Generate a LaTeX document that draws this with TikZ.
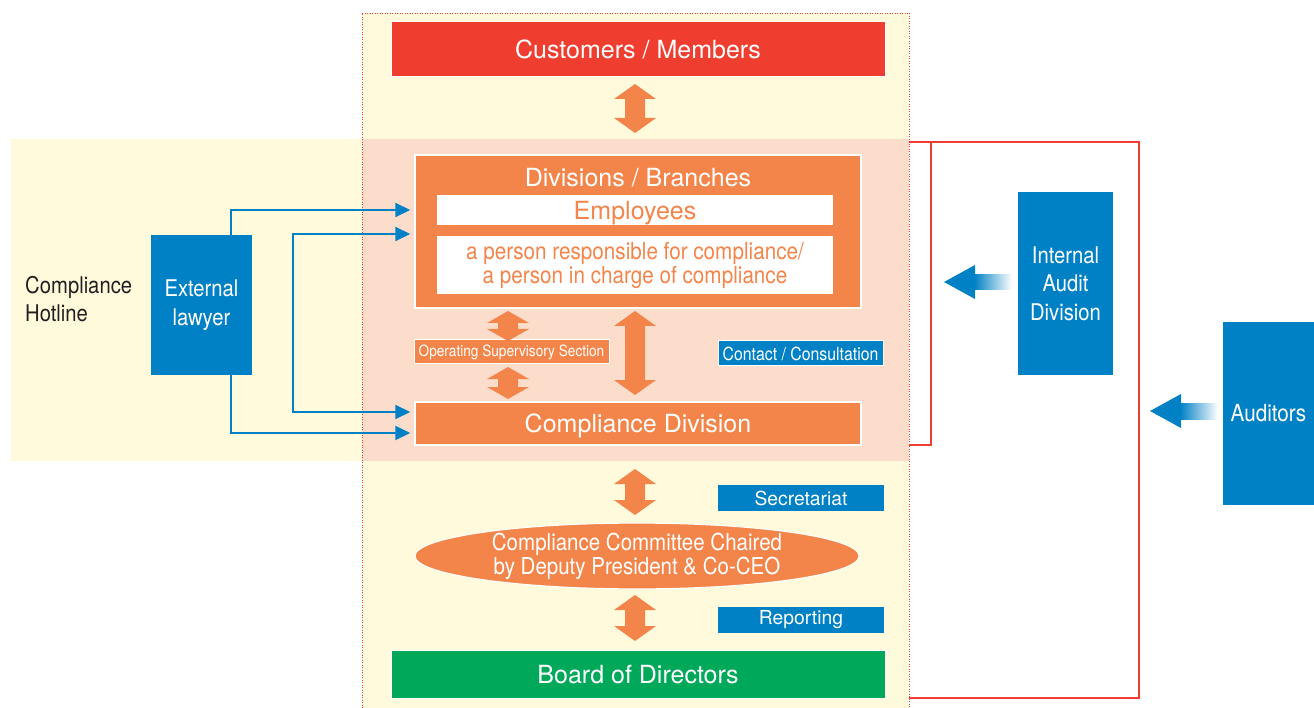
\documentclass[tikz,border=0pt]{standalone}
\usepackage{fontspec}
\setmainfont{TeX Gyre Heros}
\newfontfamily\cond[FakeStretch=0.88]{TeX Gyre Heros}
\usetikzlibrary{arrows.meta,shapes.geometric}
\definecolor{cyel}{HTML}{FFFADC}
\definecolor{cpink}{HTML}{FCDCCB}
\definecolor{corange}{HTML}{F4854A}
\definecolor{cred}{HTML}{EF3E2F}
\definecolor{cgreen}{HTML}{00A859}
\definecolor{cblue}{HTML}{0080C5}
\definecolor{cdark}{HTML}{231F20}
% x, y top, y bottom, head length
\newcommand\orarrow[4]{%
  \fill[corange] (#1,#2) -- (#1+21,#2+#4) -- (#1+10,#2+#4) -- (#1+10,#3-#4) -- (#1+21,#3-#4)
    -- (#1,#3) -- (#1-21,#3-#4) -- (#1-10,#3-#4) -- (#1-10,#2+#4) -- (#1-21,#2+#4) -- cycle;}
\begin{document}
\begin{tikzpicture}[x=1pt,y=-1pt,
  box/.style={rectangle, inner sep=0pt, draw=white, line width=1pt, text=white, align=center},
  bigtxt/.style={font=\fontsize{25}{29}\selectfont, text depth=0pt},
  blu/.style={draw=cblue, line width=2pt, -{Triangle[length=15pt,width=14pt]}},
  blu2/.style={draw=cblue, line width=2pt, {Triangle[length=15pt,width=14pt]}-{Triangle[length=15pt,width=14pt]}},
  redl/.style={draw=cred, line width=1.6pt},
]
\useasboundingbox (0,0) rectangle (1314,708);
% backgrounds
\fill[cyel] (11,139) rectangle (909,461);
\fill[cyel] (362,13) rectangle (909,708);
\fill[cpink] (362,139) rectangle (909,461);
\draw[cred, line width=0.8pt, dash pattern=on 1pt off 1.5pt] (362,708) -- (362,13) -- (909,13) -- (909,708);

% red brackets
\draw[redl] (909,142) -| (931,445) -- (909,445);
\draw[redl] (909,142) -| (1139,698) -- (909,698);

% nodes
\node[box, fill=cred, minimum width=494pt, minimum height=55pt, bigtxt] (cust) at (638,49.5) {Customers / Members};

\node[box, fill=corange, minimum width=446pt, minimum height=153pt, line width=1.5pt] (div) at (638,231.5) {};
\node[text=white, inner sep=0pt, bigtxt] (divt) at (638,177) {Divisions / Branches};
\node[fill=white, inner sep=0pt, minimum width=396pt, minimum height=30pt, text=corange, bigtxt] (emp) at (635,210) {Employees};
\node[fill=white, inner sep=0pt, minimum width=396pt, minimum height=58pt, text=corange, align=center, font=\cond\fontsize{23.5}{24}\selectfont] (resp) at (635,265) {a person responsible for compliance/\\a person in charge of compliance};

\node[box, fill=corange, minimum width=195pt, minimum height=24pt, font=\cond\fontsize{15.5}{18}\selectfont] (ops) at (511.5,352) {Operating Supervisory Section};
\node[box, fill=cblue, minimum width=165pt, minimum height=25pt, font=\cond\fontsize{18}{21}\selectfont] (cc) at (800.5,353.5) {Contact / Consultation};
\node[box, fill=corange, minimum width=446pt, minimum height=43pt, line width=1.5pt, bigtxt] (cd) at (638,423.5) {Compliance Division};

\node[fill=cblue, inner sep=0pt, minimum width=166pt, minimum height=26pt, text=white, font=\fontsize{19.3}{22}\selectfont] (sec) at (801,498) {Secretariat};
\node[ellipse, fill=corange, draw=white, line width=1pt, inner sep=0pt, minimum width=444pt, minimum height=62pt, text=white, align=center, font=\cond\fontsize{23.3}{24}\selectfont] (ell) at (637,556) {Compliance Committee Chaired\\by Deputy President \& Co-CEO};
\node[fill=cblue, inner sep=0pt, minimum width=166pt, minimum height=26pt, text=white, font=\fontsize{19.3}{22}\selectfont] (rep) at (801,620) {Reporting};
\node[box, fill=cgreen, minimum width=494pt, minimum height=48pt, bigtxt] (board) at (638,674) {Board of Directors};

\node[fill=cblue, inner sep=0pt, minimum width=101pt, minimum height=140pt, text=white, align=center, font=\cond\fontsize{23}{29}\selectfont] (law) at (201.5,305) {External\\lawyer};
\node[anchor=west, inner sep=0pt, text=cdark, align=left, font=\cond\fontsize{23}{28}\selectfont] (hot) at (25,299) {Compliance\\Hotline};

\node[fill=cblue, inner sep=0pt, minimum width=95pt, minimum height=183pt, text=white, align=center, font=\cond\fontsize{23}{28.5}\selectfont] (iad) at (1065.5,283.5) {Internal\\Audit\\Division};
\node[fill=cblue, inner sep=0pt, minimum width=91pt, minimum height=183pt, text=white, font=\cond\fontsize{23.5}{28}\selectfont] (aud) at (1268.5,413.5) {Auditors};

% orange double block arrows (between cust/div, div/cd, div/ops/cd, cd/ell, ell/board)
\orarrow{635}{84}{133}{15}
\orarrow{635}{311}{395}{15}
\orarrow{508}{311}{341}{12}
\orarrow{508}{367}{399}{12}
\orarrow{635}{469}{515}{15}
\orarrow{635}{595}{641}{15}

% blue connectors
\coordinate (v1) at (293,234);
\coordinate (v2) at (293,412);
\coordinate (v3) at (231,433);
\draw[blu] ([xshift=29.5pt]law.north) |- ([xshift=-4pt]div.west |- emp.center);
\draw[blu2] ([xshift=-4pt]div.west |- v1) -- (v1) -- (v2) -- ([xshift=-4pt]cd.west |- v2);
\draw[blu] ([xshift=29.5pt]law.south) |- ([xshift=-4pt]cd.west |- v3);

% gradient arrows
\shade[left color=cblue, right color=white] (974,274.5) rectangle (1012,290);
\fill[cblue] (944,282) -- (975,265) -- (975,299) -- cycle;
\shade[left color=cblue, right color=white] (1180,403.5) rectangle (1218,419);
\fill[cblue] (1150,411) -- (1181,394) -- (1181,428) -- cycle;
\end{tikzpicture}
\end{document}
